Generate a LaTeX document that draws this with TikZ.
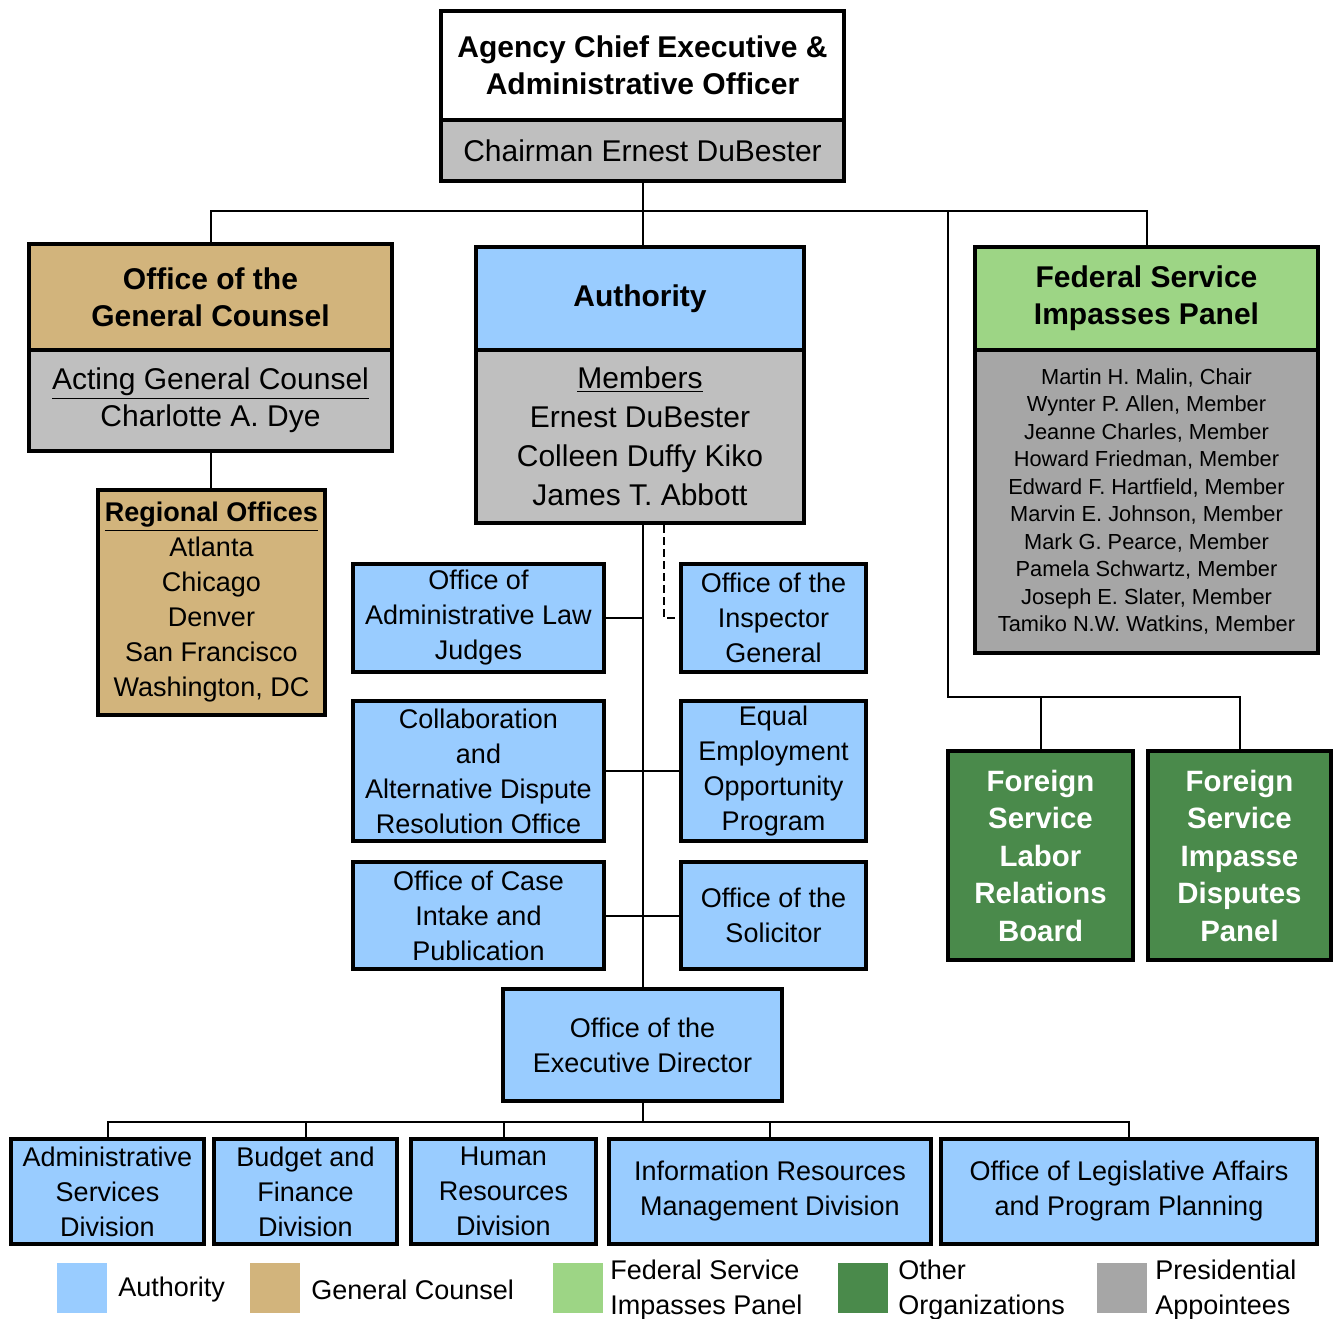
\documentclass[tikz,border=0pt]{standalone}
\usepackage{fontspec}
\setmainfont{Liberation Sans}
\usepackage{xcolor}
\definecolor{authblue}{HTML}{99CCFF}
\definecolor{gctan}{HTML}{D2B47C}
\definecolor{fsipgreen}{HTML}{9DD585}
\definecolor{othergreen}{HTML}{4A8A4B}
\definecolor{namegray}{HTML}{BFBFBF}
\definecolor{apgray}{HTML}{A6A6A6}

\begin{document}
\begin{tikzpicture}
    [x=0.5pt, y=-0.5pt,
    box/.style={draw=black, line width=2pt, inner sep=0pt, align=center},
    head/.style={box, font=\bfseries\fontsize{15}{18.5}\selectfont},
    person/.style={box, fill=namegray, font=\fontsize{15}{18.5}\selectfont},
    body/.style={box, fill=authblue, font=\fontsize{13.5}{17.5}\selectfont},
    other/.style={box, fill=othergreen, text=white, minimum width=92.5pt, minimum height=104.5pt,
        font=\bfseries\fontsize{14.7}{18.75}\selectfont},
    bottom/.style={body, minimum height=52.5pt},
    swatch/.style={minimum size=25pt, inner sep=0pt},
    keytext/.style={anchor=west, align=left, inner sep=0pt, font=\fontsize{13.5}{17.5}\selectfont},
    link/.style={line width=1pt}]
    \useasboundingbox (0,0) rectangle (1334,1318);

    % top of the agency
    \node[head, fill=white, minimum width=201.5pt, minimum height=54.5pt] (exec) at (642.5,65.5)
        {Agency Chief Executive \&\\Administrative Officer};
    \node[person, minimum width=201.5pt, minimum height=30.5pt] (chair) at (642.5,150.5)
        {Chairman Ernest DuBester};

    % general counsel
    \node[head, fill=gctan, minimum width=181.5pt, minimum height=53pt] (gc) at (210.5,297)
        {Office of the\\General Counsel};
    \node[person, minimum width=181.5pt, minimum height=50.5pt] (gcname) at (210.5,400.5)
        {\underline{Acting General Counsel}\\Charlotte A. Dye};
    \node[box, fill=gctan, minimum width=113.5pt, minimum height=112.5pt,
        font=\fontsize{13.5}{17.5}\selectfont] (regional) at (211.5,602.5)
        {\textbf{\underline{Regional Offices}}\\Atlanta\\Chicago\\Denver\\San Francisco\\Washington, DC};

    % authority
    \node[head, fill=authblue, minimum width=164pt, minimum height=51.5pt] (auth) at (640,298.5)
        {Authority};
    \node[person, minimum width=164pt, minimum height=86.5pt,
        font=\fontsize{15}{19.5}\selectfont] (members) at (640,436.5)
        {\underline{Members}\\Ernest DuBester\\Colleen Duffy Kiko\\James T. Abbott};

    % impasses panel
    \node[head, fill=fsipgreen, minimum width=171.5pt, minimum height=51.5pt] (fsip) at (1146.5,298.5)
        {Federal Service\\Impasses Panel};
    \node[box, fill=apgray, minimum width=171.5pt, minimum height=151.5pt,
        font=\fontsize{10.9}{13.75}\selectfont] (fsipmem) at (1146.5,501.5)
        {Martin H. Malin, Chair\\Wynter P. Allen, Member\\Jeanne Charles, Member\\
         Howard Friedman, Member\\Edward F. Hartfield, Member\\Marvin E. Johnson, Member\\
         Mark G. Pearce, Member\\Pamela Schwartz, Member\\Joseph E. Slater, Member\\
         Tamiko N.W. Watkins, Member};
    \node[other] (fslrb) at (1040.5,855.5) {Foreign\\Service\\Labor\\Relations\\Board};
    \node[other, minimum width=91.5pt] (fsidp) at (1239.5,855.5) {Foreign\\Service\\Impasse\\Disputes\\Panel};

    % offices under the authority
    \node[body, minimum width=125.5pt, minimum height=54pt] (alj) at (478.5,618)
        {Office of\\Administrative Law\\Judges};
    \node[body, minimum width=92.5pt, minimum height=54pt] (oig) at (773.5,618)
        {Office of the\\Inspector\\General};
    \node[body, minimum width=125.5pt, minimum height=70pt] (adr) at (478.5,771)
        {Collaboration\\and\\Alternative Dispute\\Resolution Office};
    \node[body, minimum width=92.5pt, minimum height=70pt] (eeo) at (773.5,771)
        {Equal\\Employment\\Opportunity\\Program};
    \node[body, minimum width=125.5pt, minimum height=53.5pt] (intake) at (478.5,915.5)
        {Office of Case\\Intake and\\Publication};
    \node[body, minimum width=92.5pt, minimum height=53.5pt] (sol) at (773.5,915.5)
        {Office of the\\Solicitor};
    \node[body, minimum width=139.5pt, minimum height=56pt] (ed) at (642.5,1045)
        {Office of the\\Executive Director};

    % divisions
    \node[bottom, minimum width=96.5pt] (asd) at (107.5,1191.5) {Administrative\\Services\\Division};
    \node[bottom, minimum width=91.5pt] (bfd) at (305.5,1191.5) {Budget and\\Finance\\Division};
    \node[bottom, minimum width=92.5pt] (hrd) at (503.5,1191.5) {Human\\Resources\\Division};
    \node[bottom, minimum width=161pt] (irmd) at (770,1191.5) {Information Resources\\Management Division};
    \node[bottom, minimum width=188pt] (olapp) at (1129,1191.5) {Office of Legislative Affairs\\and Program Planning};

    % connectors
    \coordinate (topbus) at (642.5,211);
    \coordinate (fork) at (948,697);
    \coordinate (lowbus) at (642.5,1122);
    \coordinate (igturn) at (664,618);
    \draw[link] (chair.south) -- (chair.south |- auth.north);
    \draw[link] (gc.north) |- (topbus) -| (fsip.north);
    \draw[link] (fork |- topbus) -- (fork) -| (fsidp.north);
    \draw[link] (fork) -| (fslrb.north);
    \draw[link] (gcname.south) -- (regional.north -| gcname.south);
    \draw[link] (ed.north) -- (ed.north |- members.south);
    \draw[link, dash pattern=on 4pt off 2pt] (igturn |- members.south) -- (igturn) -- (oig.west);
    \draw[link] (alj.east) -- (alj.east -| ed.north);
    \draw[link] (adr.east) -- (eeo.west);
    \draw[link] (intake.east) -- (sol.west);
    \draw[link] (ed.south) -- (lowbus);
    \draw[link] (asd.north) |- (lowbus) -| (olapp.north);
    \draw[link] (bfd.north) -- (bfd.north |- lowbus);
    \draw[link] (hrd.north) -- (hrd.north |- lowbus);
    \draw[link] (irmd.north) -- (irmd.north |- lowbus);

    % legend
    \node[swatch, fill=authblue] (keyauth) at (82,1288) {};
    \node[keytext] (keyauthtxt) at (118,1290) {Authority};
    \node[swatch, fill=gctan] (keygc) at (275,1288) {};
    \node[keytext] (keygctxt) at (311,1290) {General Counsel};
    \node[swatch, fill=fsipgreen] (keyfsip) at (578,1288) {};
    \node[keytext] (keyfsiptxt) at (610,1290) {Federal Service\\Impasses Panel};
    \node[swatch, fill=othergreen] (keyother) at (863,1288) {};
    \node[keytext] (keyothertxt) at (898,1290) {Other\\Organizations};
    \node[swatch, fill=apgray] (keyap) at (1122,1288) {};
    \node[keytext] (keyaptxt) at (1155,1290) {Presidential\\Appointees};
\end{tikzpicture}
\end{document}
